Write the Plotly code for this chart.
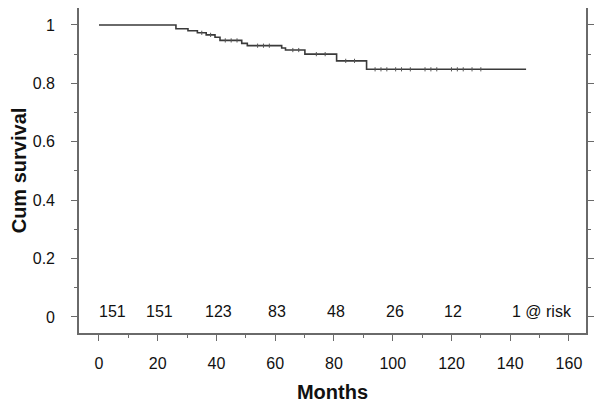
import plotly.graph_objects as go

# Kaplan-Meier step curve (months, cumulative survival)
km_months = [0, 26.2, 30.3, 33.5, 36.5, 39.5, 41.2, 48.6, 50.5, 62.2, 63.5, 70.1, 80.9, 91.1, 145.4]
km_surv = [1.0, 0.987, 0.980, 0.973, 0.966, 0.958, 0.947, 0.937, 0.929, 0.921, 0.914, 0.900, 0.877, 0.848, 0.848]

# censored observations (months)
cens_months = [35, 38, 43, 45, 47, 54, 56, 58, 66, 68, 74, 77, 84, 87, 94, 96, 98, 101, 103, 106, 111, 113, 115, 120, 122, 124, 127, 130]

# number at risk
risk_months = [0, 20, 40, 60, 80, 100, 120, 140]
risk_counts = ["151", "151", "123", "83", "48", "26", "12", "1 @ risk"]

x_ticks = [0, 20, 40, 60, 80, 100, 120, 140, 160]
y_ticks = [0, 0.2, 0.4, 0.6, 0.8, 1]


def surv_at(t):
    s = km_surv[0]
    for m, v in zip(km_months, km_surv):
        if m <= t:
            s = v
    return s


fig = go.Figure()
fig.add_trace(go.Scatter(x=km_months, y=km_surv, mode="lines", line=dict(shape="hv", color="#3a3a3a", width=1.6),
                         hoverinfo="skip", showlegend=False))
fig.add_trace(go.Scatter(x=cens_months, y=[surv_at(t) for t in cens_months], mode="markers",
                         marker=dict(symbol="line-ns", size=3, line=dict(color="#555", width=1)),
                         hoverinfo="skip", showlegend=False))

for i, (m, c) in enumerate(zip(risk_months, risk_counts)):
    anchor = "center"
    shift = 2
    if i == 0:
        shift = 14
    if c.endswith("risk"):
        anchor = "left"
        shift = 0
    fig.add_annotation(x=m, y=0.02, text=c, showarrow=False, xanchor=anchor, yanchor="middle", xshift=shift,
                       font=dict(size=16, color="#111"))

axis_common = dict(showgrid=False, zeroline=False, showline=True, linecolor="#6a6a6a", linewidth=1.6,
                   mirror="allticks", ticks="outside", tickcolor="#6a6a6a", tickwidth=1.4, ticklen=6,
                   automargin=False,
                   tickfont=dict(size=16, color="#111", family="Liberation Sans, Arial, sans-serif"))

fig.update_xaxes(range=[-6.8, 165.8], tickvals=x_ticks, ticklabelstandoff=9,
                 minor=dict(dtick=10, tick0=0, ticks="outside", ticklen=3, tickcolor="#6a6a6a", tickwidth=1.2),
                 title=dict(text="<b>Months</b>", font=dict(size=20, color="#111"), standoff=14),
                 **axis_common)
fig.update_yaxes(range=[-0.055, 1.058], tickvals=y_ticks, ticklabelstandoff=13,
                 minor=dict(dtick=0.1, tick0=0, ticks="outside", ticklen=3, tickcolor="#6a6a6a", tickwidth=1.2),
                 title=dict(text="<b>Cum survival</b>", font=dict(size=20, color="#111"), standoff=10),
                 **axis_common)

# page body has an 8px margin, so the figure is sized to fit the 602x405 window
fig.update_layout(width=594, height=397, margin=dict(l=71, r=16, t=0, b=72),
                  plot_bgcolor="white", paper_bgcolor="white",
                  font=dict(family="Liberation Sans, Arial, sans-serif", color="#111"))

fig.write_html("out.html")
